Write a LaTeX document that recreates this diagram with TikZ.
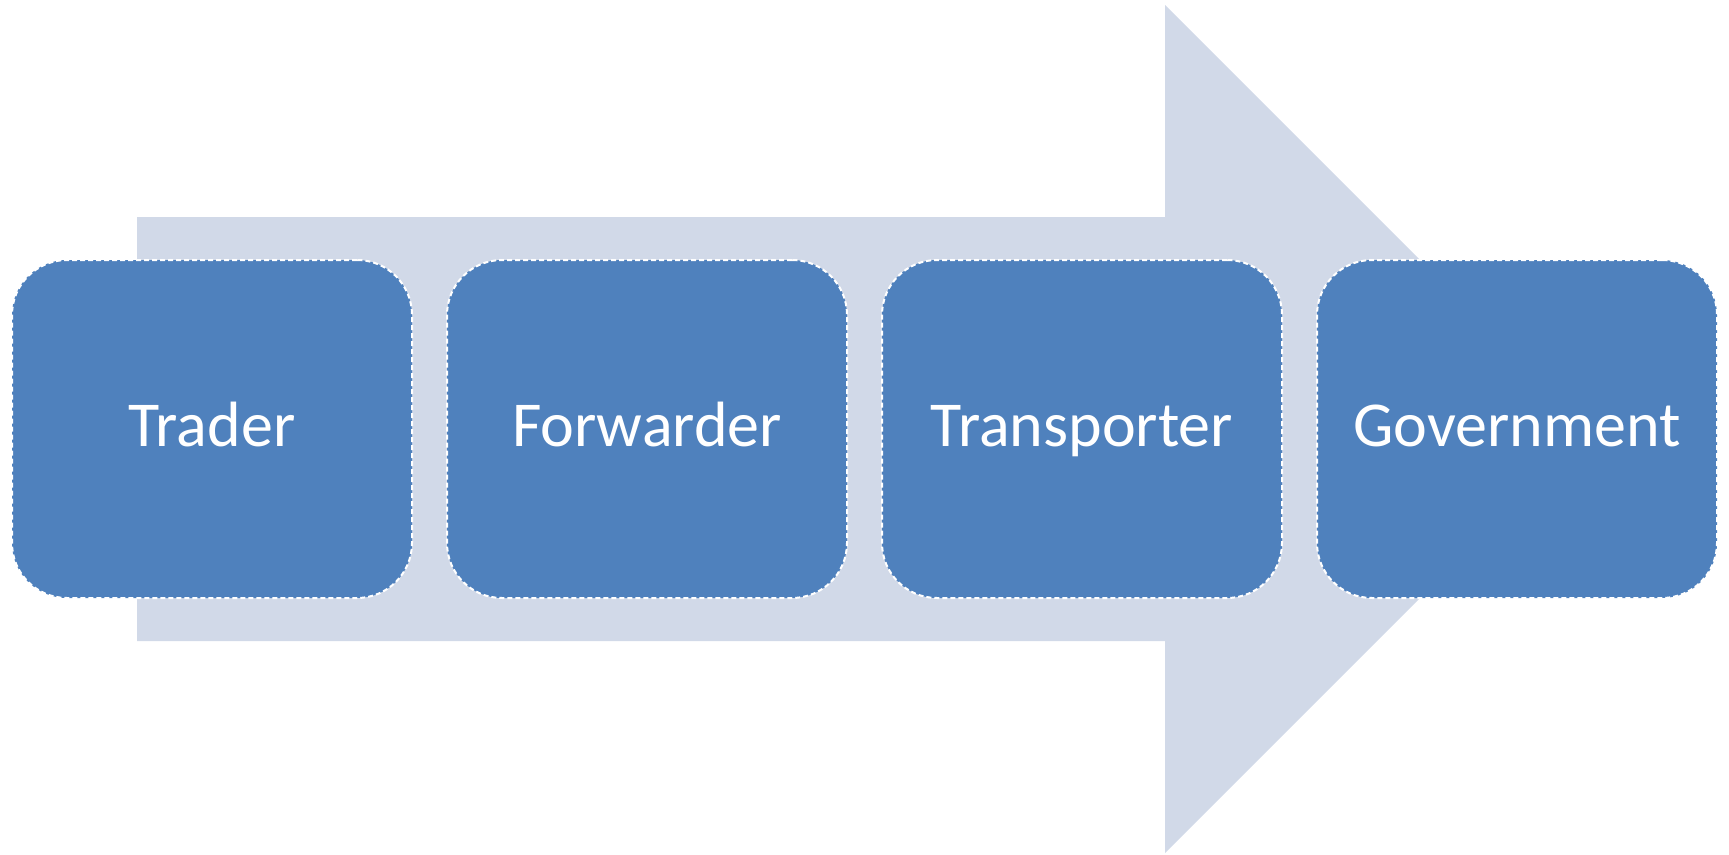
\documentclass[tikz,border=0pt]{standalone}
\usepackage{fontspec}
\setmainfont{Carlito}
\definecolor{boxblue}{HTML}{4F81BD}
\definecolor{arrowblue}{HTML}{D1D9E8}
\begin{document}
\begin{tikzpicture}[x=1pt,y=-1pt,
  stage/.style={rectangle, rounded corners=55pt, fill=boxblue, draw=white,
    dash pattern=on 5pt off 3pt, line width=2pt,
    minimum width=400pt, minimum height=338pt, inner sep=0pt,
    text height=45pt, text depth=10pt,
    text=white, font=\fontsize{64}{76}\selectfont},
  flow/.style={fill=arrowblue, draw=none}]
\useasboundingbox (0,0) rectangle (1729,854);
\fill[flow] (137,217) -- (1165,217) -- (1165,5) -- (1589,429) -- (1165,853) -- (1165,641) -- (137,641) -- cycle;
\node[stage] (trader) at (212,429) {Trader};
\node[stage] (forwarder) at (647,429) {Forwarder};
\node[stage] (transporter) at (1082,429) {Transporter};
\node[stage] (government) at (1517,429) {Government};
\end{tikzpicture}
\end{document}
